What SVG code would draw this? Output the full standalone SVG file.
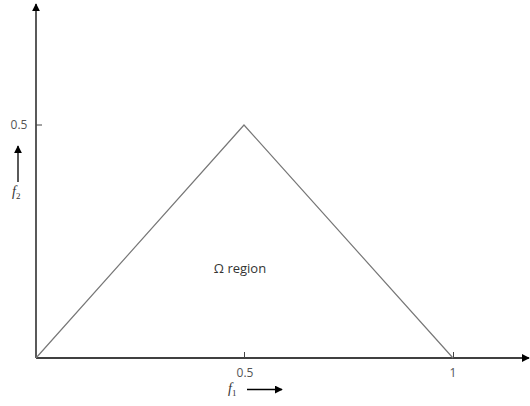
<svg xmlns="http://www.w3.org/2000/svg" width="530" height="406" viewBox="0 0 530 406">
<style>
.ax{stroke:#000;stroke-width:1.3;fill:none}
.tri{stroke:#777;stroke-width:1.2;fill:none}
.tk{stroke:#444;stroke-width:1}
.lbl{font-family:"Open Sans","Liberation Sans",sans-serif;font-size:12px;fill:#555}
.var{font-family:"Liberation Serif",serif;font-style:italic;font-size:14px;fill:#333}
</style>
<defs>
<marker id="ah" viewBox="0 0 10 10" refX="9" refY="5" markerWidth="8" markerHeight="8" markerUnits="userSpaceOnUse" orient="auto"><path d="M0,0 L10,5 L0,10 z" fill="#000"/></marker>
</defs>
<rect width="530" height="406" fill="#fff"/>
<g id="connectors">
<line class="ax" x1="36" y1="358" x2="36" y2="4" marker-end="url(#ah)"/>
<line class="ax" x1="36" y1="358" x2="529" y2="358" marker-end="url(#ah)"/>
<line class="ax" x1="18" y1="182" x2="18" y2="146" marker-end="url(#ah)"/>
<line class="ax" x1="247" y1="389.5" x2="282" y2="389.5" marker-end="url(#ah)"/>
<line class="tk" x1="36" y1="125" x2="42" y2="125"/>
<line class="tk" x1="244.5" y1="352" x2="244.5" y2="358"/>
<line class="tk" x1="453.5" y1="352" x2="453.5" y2="358"/>
</g>
<g id="region">
<polyline class="tri" points="36,358 244,125 453,358"/>
<text x="240" y="273" text-anchor="middle" font-family="Open Sans,Liberation Sans,sans-serif" font-size="13" fill="#333">Ω region</text>
</g>
<g id="labels">
<text class="lbl" x="19" y="129" text-anchor="middle">0.5</text>
<text class="var" x="12" y="196">f<tspan font-size="9" dy="3" font-style="normal">2</tspan></text>
<text class="lbl" x="245" y="377" text-anchor="middle">0.5</text>
<text class="lbl" x="453" y="377" text-anchor="middle">1</text>
<text class="var" x="228" y="393">f<tspan font-size="9" dy="3" font-style="normal">1</tspan></text>
</g>
</svg>
